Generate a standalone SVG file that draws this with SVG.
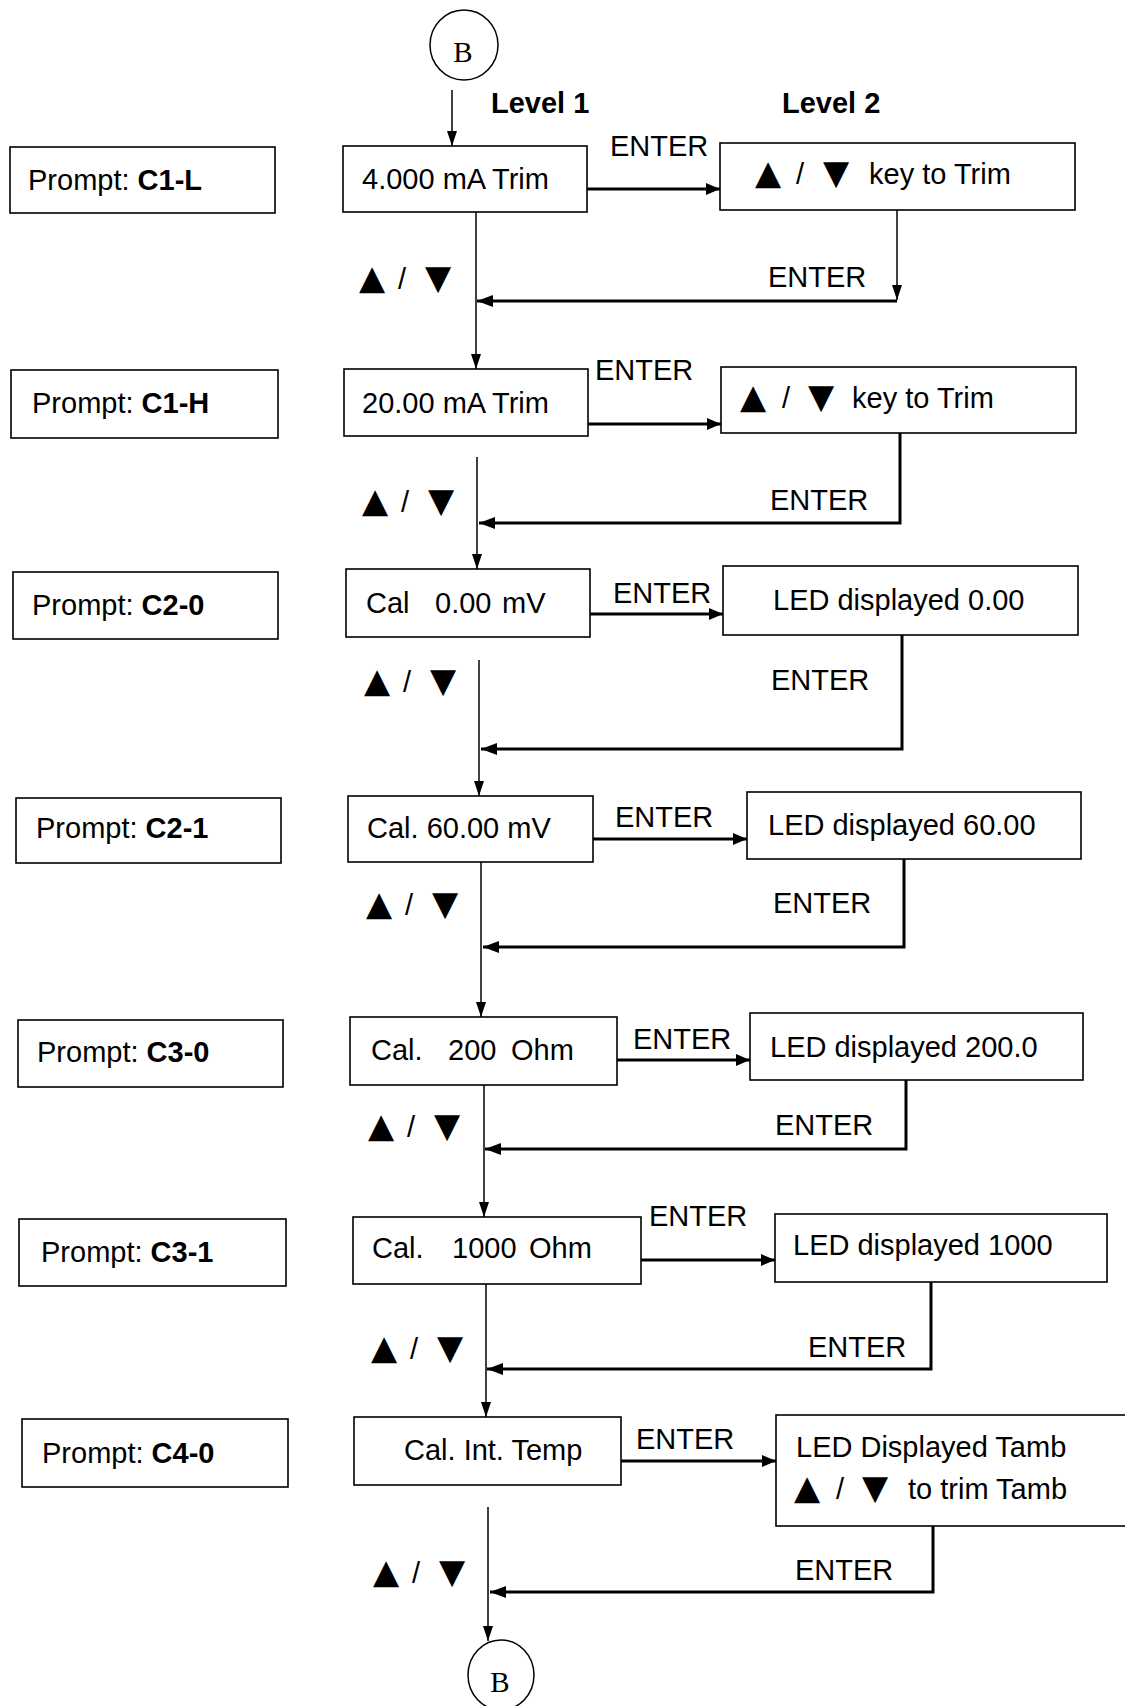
<svg xmlns="http://www.w3.org/2000/svg" width="1125" height="1706" viewBox="0 0 1125 1706">
<style>
.bx{fill:#fff;stroke:#000;stroke-width:1.6}
.t{font-family:"Liberation Sans",Arial,sans-serif;font-size:29px;fill:#000}
.b{font-weight:bold}
.tri{font-family:"DejaVu Sans",sans-serif;font-size:34px;fill:#000}
.thin{stroke:#000;stroke-width:1.5;fill:none}
.thick{stroke:#000;stroke-width:3;fill:none}
.cir{fill:#fff;stroke:#000;stroke-width:1.5}
.bt{font-family:"Liberation Serif","Times New Roman",serif;font-size:29px;fill:#000}
</style>
<defs>
<marker id="ar" viewBox="0 0 14 12" refX="14" refY="6" markerWidth="14" markerHeight="12" orient="auto" markerUnits="userSpaceOnUse"><path d="M0,0 L14,6 L0,12 z" fill="#000"/></marker>
<marker id="al" viewBox="0 0 16 12" refX="16" refY="6" markerWidth="16" markerHeight="12" orient="auto" markerUnits="userSpaceOnUse"><path d="M0,0 L16,6 L0,12 z" fill="#000"/></marker>
<marker id="ad" viewBox="0 0 15 10" refX="15" refY="5" markerWidth="15" markerHeight="10" orient="auto" markerUnits="userSpaceOnUse"><path d="M0,0 L15,5 L0,10 z" fill="#000"/></marker>
</defs>
<rect width="1125" height="1706" fill="#fff"/>

<g id="connectors">
<line class="thin" x1="452" y1="90" x2="452" y2="146" marker-end="url(#ad)"/>
<line class="thin" x1="476" y1="212" x2="476" y2="369" marker-end="url(#ad)"/>
<line class="thick" x1="587" y1="189" x2="720" y2="189" marker-end="url(#ar)"/>
<line class="thin" x1="897" y1="210" x2="897" y2="300" marker-end="url(#ad)"/>
<line class="thick" x1="897" y1="301" x2="477" y2="301" marker-end="url(#al)"/>

<line class="thin" x1="477" y1="457" x2="477" y2="569" marker-end="url(#ad)"/>
<line class="thick" x1="588" y1="424" x2="721" y2="424" marker-end="url(#ar)"/>
<polyline class="thick" points="900,433 900,523 479,523" marker-end="url(#al)"/>

<line class="thin" x1="479" y1="660" x2="479" y2="796" marker-end="url(#ad)"/>
<line class="thick" x1="590" y1="614" x2="723" y2="614" marker-end="url(#ar)"/>
<polyline class="thick" points="902,635 902,749 481,749" marker-end="url(#al)"/>

<line class="thin" x1="481" y1="862" x2="481" y2="1017" marker-end="url(#ad)"/>
<line class="thick" x1="593" y1="839" x2="747" y2="839" marker-end="url(#ar)"/>
<polyline class="thick" points="904,859 904,947 483,947" marker-end="url(#al)"/>

<line class="thin" x1="484" y1="1085" x2="484" y2="1217" marker-end="url(#ad)"/>
<line class="thick" x1="617" y1="1060" x2="750" y2="1060" marker-end="url(#ar)"/>
<polyline class="thick" points="906,1080 906,1149 485,1149" marker-end="url(#al)"/>

<line class="thin" x1="486" y1="1284" x2="486" y2="1417" marker-end="url(#ad)"/>
<line class="thick" x1="641" y1="1260" x2="775" y2="1260" marker-end="url(#ar)"/>
<polyline class="thick" points="931,1282 931,1369 487,1369" marker-end="url(#al)"/>

<line class="thin" x1="488" y1="1507" x2="488" y2="1641" marker-end="url(#ad)"/>
<line class="thick" x1="621" y1="1461" x2="776" y2="1461" marker-end="url(#ar)"/>
<polyline class="thick" points="933,1526 933,1592 490,1592" marker-end="url(#al)"/>
</g>

<g id="labels">
<text class="t b" x="491" y="113">Level 1</text>
<text class="t b" x="782" y="113">Level 2</text>
<text class="t" x="610" y="156">ENTER</text>
<text class="t" x="768" y="287">ENTER</text>
<text x="359" y="289"><tspan class="tri">▲</tspan><tspan class="t" x="398">/</tspan><tspan class="tri" x="425">▼</tspan></text>
<text class="t" x="595" y="380">ENTER</text>
<text class="t" x="770" y="510">ENTER</text>
<text x="362" y="512"><tspan class="tri">▲</tspan><tspan class="t" x="401">/</tspan><tspan class="tri" x="428">▼</tspan></text>
<text class="t" x="613" y="603">ENTER</text>
<text class="t" x="771" y="690">ENTER</text>
<text x="364" y="692"><tspan class="tri">▲</tspan><tspan class="t" x="403">/</tspan><tspan class="tri" x="430">▼</tspan></text>
<text class="t" x="615" y="827">ENTER</text>
<text class="t" x="773" y="913">ENTER</text>
<text x="366" y="915"><tspan class="tri">▲</tspan><tspan class="t" x="405">/</tspan><tspan class="tri" x="432">▼</tspan></text>
<text class="t" x="633" y="1049">ENTER</text>
<text class="t" x="775" y="1135">ENTER</text>
<text x="368" y="1137"><tspan class="tri">▲</tspan><tspan class="t" x="407">/</tspan><tspan class="tri" x="434">▼</tspan></text>
<text class="t" x="649" y="1226">ENTER</text>
<text class="t" x="808" y="1357">ENTER</text>
<text x="371" y="1359"><tspan class="tri">▲</tspan><tspan class="t" x="410">/</tspan><tspan class="tri" x="437">▼</tspan></text>
<text class="t" x="636" y="1449">ENTER</text>
<text class="t" x="795" y="1580">ENTER</text>
<text x="373" y="1583"><tspan class="tri">▲</tspan><tspan class="t" x="412">/</tspan><tspan class="tri" x="439">▼</tspan></text>
</g>

<g id="b-top"><ellipse class="cir" cx="464" cy="45" rx="34" ry="35"/><text class="bt" x="463" y="62" text-anchor="middle">B</text></g>
<g id="b-bottom"><ellipse class="cir" cx="501" cy="1675" rx="33" ry="35"/><text class="bt" x="500" y="1692" text-anchor="middle">B</text></g>

<g id="p1"><rect class="bx" x="10" y="147" width="265" height="66"/><text class="t" x="28" y="190">Prompt: <tspan class="b">C1-L</tspan></text></g>
<g id="n1"><rect class="bx" x="343" y="146" width="244" height="66"/><text class="t" x="362" y="189">4.000 mA Trim</text></g>
<g id="m1"><rect class="bx" x="720" y="143" width="355" height="67"/><text x="755" y="184"><tspan class="tri">▲</tspan><tspan class="t" x="796">/</tspan><tspan class="tri" x="823">▼</tspan><tspan class="t" x="869">key to Trim</tspan></text></g>

<g id="p2"><rect class="bx" x="11" y="370" width="267" height="68"/><text class="t" x="32" y="413">Prompt: <tspan class="b">C1-H</tspan></text></g>
<g id="n2"><rect class="bx" x="344" y="369" width="244" height="67"/><text class="t" x="362" y="413">20.00 mA Trim</text></g>
<g id="m2"><rect class="bx" x="721" y="367" width="355" height="66"/><text x="740" y="408"><tspan class="tri">▲</tspan><tspan class="t" x="782">/</tspan><tspan class="tri" x="808">▼</tspan><tspan class="t" x="852">key to Trim</tspan></text></g>

<g id="p3"><rect class="bx" x="13" y="572" width="265" height="67"/><text class="t" x="32" y="615">Prompt: <tspan class="b">C2-0</tspan></text></g>
<g id="n3"><rect class="bx" x="346" y="569" width="244" height="68"/><text class="t" x="366" y="613">Cal<tspan x="435">0.00</tspan><tspan x="502">mV</tspan></text></g>
<g id="m3"><rect class="bx" x="723" y="566" width="355" height="69"/><text class="t" x="773" y="610">LED displayed 0.00</text></g>

<g id="p4"><rect class="bx" x="16" y="798" width="265" height="65"/><text class="t" x="36" y="838">Prompt: <tspan class="b">C2-1</tspan></text></g>
<g id="n4"><rect class="bx" x="348" y="796" width="245" height="66"/><text class="t" x="367" y="838">Cal. 60.00 mV</text></g>
<g id="m4"><rect class="bx" x="747" y="792" width="334" height="67"/><text class="t" x="768" y="835">LED displayed 60.00</text></g>

<g id="p5"><rect class="bx" x="18" y="1020" width="265" height="67"/><text class="t" x="37" y="1062">Prompt: <tspan class="b">C3-0</tspan></text></g>
<g id="n5"><rect class="bx" x="350" y="1017" width="267" height="68"/><text class="t" x="371" y="1060">Cal.<tspan x="448">200</tspan><tspan x="511">Ohm</tspan></text></g>
<g id="m5"><rect class="bx" x="750" y="1013" width="333" height="67"/><text class="t" x="770" y="1057">LED displayed 200.0</text></g>

<g id="p6"><rect class="bx" x="19" y="1219" width="267" height="67"/><text class="t" x="41" y="1262">Prompt: <tspan class="b">C3-1</tspan></text></g>
<g id="n6"><rect class="bx" x="353" y="1217" width="288" height="67"/><text class="t" x="372" y="1258">Cal.<tspan x="452">1000</tspan><tspan x="529">Ohm</tspan></text></g>
<g id="m6"><rect class="bx" x="775" y="1214" width="332" height="68"/><text class="t" x="793" y="1255">LED displayed 1000</text></g>

<g id="p7"><rect class="bx" x="22" y="1419" width="266" height="68"/><text class="t" x="42" y="1463">Prompt: <tspan class="b">C4-0</tspan></text></g>
<g id="n7"><rect class="bx" x="354" y="1417" width="267" height="68"/><text class="t" x="404" y="1460">Cal. Int. Temp</text></g>
<g id="m7"><rect class="bx" x="776" y="1415" width="360" height="111"/><text class="t" x="796" y="1457">LED Displayed Tamb</text><text x="794" y="1499"><tspan class="tri">▲</tspan><tspan class="t" x="836">/</tspan><tspan class="tri" x="862">▼</tspan><tspan class="t" x="908">to trim Tamb</tspan></text></g>
</svg>
